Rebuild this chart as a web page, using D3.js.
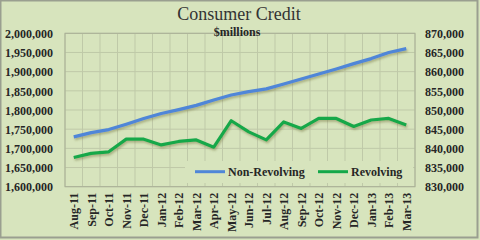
<!DOCTYPE html>
<html>
<head>
<meta charset="utf-8">
<script src="https://cdn.jsdelivr.net/npm/d3@7"></script>
<style>
  html, body { margin: 0; padding: 0; background: #d7e4bd; }
  svg { display: block; }
  text { font-family: "Liberation Serif", serif; fill: #262626; }
</style>
</head>
<body>
<svg class="chart"></svg>
<script>
const months = ['Aug-11', 'Sep-11', 'Oct-11', 'Nov-11', 'Dec-11', 'Jan-12', 'Feb-12', 'Mar-12', 'Apr-12', 'May-12',
  'Jun-12', 'Jul-12', 'Aug-12', 'Sep-12', 'Oct-12', 'Nov-12', 'Dec-12', 'Jan-13', 'Feb-13', 'Mar-13']
const nonRevolving = [1730000, 1741000, 1749000, 1763000, 1778000, 1791000, 1801000, 1812000, 1826000, 1839000,
  1848000, 1855000, 1868000, 1881000, 1894000, 1907000, 1921000, 1934000, 1950000, 1960000]
const revolving = [837600, 838700, 839100, 842400, 842400, 840900, 841800, 842200, 840300, 847200,
  844300, 842200, 846900, 845200, 847800, 847800, 845700, 847400, 847800, 846100]
const leftTicks = [1600000, 1650000, 1700000, 1750000, 1800000, 1850000, 1900000, 1950000, 2000000]
const rightTicks = [830000, 835000, 840000, 845000, 850000, 855000, 860000, 865000, 870000]
const seriesNames = ['Non-Revolving', 'Revolving']

const w = 480
const h = 240
const plot = {left: 65, right: 415, top: 33.3, bottom: 186.7}
const blue = '#4f86d8'
const green = '#14a84a'
const gridColor = '#bfc9a8'

const svg = d3.select('.chart')
  .attr('width', w)
  .attr('height', h)

// background and outer frame
svg.append('rect')
  .attr('x', 0.5).attr('y', 0.5)
  .attr('width', w - 3).attr('height', h - 3)
  .attr('fill', '#d7e4bd')
  .attr('stroke', '#9a9f90')
  .attr('stroke-width', 2)

const defs = svg.append('defs')
defs.append('filter')
  .attr('id', 'shadow')
  .attr('x', '-10%').attr('y', '-20%').attr('width', '120%').attr('height', '160%')
  .append('feDropShadow')
  .attr('dx', 1).attr('dy', 1.8)
  .attr('stdDeviation', 0.9)
  .attr('flood-color', '#6b6a30')
  .attr('flood-opacity', 0.45)

const xScale = d3.scaleBand()
  .domain(months)
  .range([plot.left, plot.right])
  .paddingInner(0).paddingOuter(0)

const yLeft = d3.scaleLinear()
  .domain([1600000, 2000000])
  .range([plot.bottom, plot.top])

const yRight = d3.scaleLinear()
  .domain([830000, 870000])
  .range([plot.bottom, plot.top])

// gridlines
const grid = svg.append('g')
grid.selectAll('.hgrid')
  .data(leftTicks)
  .enter()
  .append('line')
  .attr('x1', plot.left).attr('x2', plot.right)
  .attr('y1', d => yLeft(d)).attr('y2', d => yLeft(d))
  .attr('stroke', gridColor)
  .attr('stroke-width', 1)

grid.selectAll('.vgrid')
  .data(months.concat(['end']))
  .enter()
  .append('line')
  .attr('x1', (d, i) => i < months.length ? xScale(d) : plot.right)
  .attr('x2', (d, i) => i < months.length ? xScale(d) : plot.right)
  .attr('y1', plot.top).attr('y2', plot.bottom)
  .attr('stroke', gridColor)
  .attr('stroke-width', 1)

// plot border
svg.append('rect')
  .attr('x', plot.left).attr('y', plot.top)
  .attr('width', plot.right - plot.left)
  .attr('height', plot.bottom - plot.top)
  .attr('fill', 'none')
  .attr('stroke', '#a9b096')
  .attr('stroke-width', 1)

// axes
const fmt = d3.format(',')
const leftAxis = d3.axisLeft(yLeft).tickValues(leftTicks).tickFormat(fmt).tickSize(0).tickPadding(0)
svg.append('g')
  .attr('transform', 'translate(53,0)')
  .call(leftAxis)
  .call(g => g.select('.domain').remove())
  .selectAll('text')
  .attr('dy', '0.35em')
  .style('font-size', '12px')
  .style('font-weight', 'bold')
  .style('font-family', '"Liberation Serif", serif')

const rightAxis = d3.axisRight(yRight).tickValues(rightTicks).tickFormat(fmt).tickSize(0).tickPadding(0)
svg.append('g')
  .attr('transform', 'translate(425,0)')
  .call(rightAxis)
  .call(g => g.select('.domain').remove())
  .selectAll('text')
  .attr('dy', '0.35em')
  .style('font-size', '12px')
  .style('font-weight', 'bold')
  .style('font-family', '"Liberation Serif", serif')

const xAxis = d3.axisBottom(xScale).tickSize(0).tickPadding(0)
svg.append('g')
  .attr('transform', 'translate(0,' + (plot.bottom + 6) + ')')
  .call(xAxis)
  .call(g => g.select('.domain').remove())
  .selectAll('text')
  .attr('transform', 'rotate(-90)')
  .attr('text-anchor', 'end')
  .attr('x', 0).attr('y', 0)
  .attr('dx', 0).attr('dy', '0.38em')
  .style('font-size', '12px')
  .style('font-weight', 'bold')
  .style('font-family', '"Liberation Serif", serif')

// legend box (covers gridlines)
svg.append('rect')
  .attr('x', 185).attr('y', 161)
  .attr('width', 228).attr('height', 22)
  .attr('fill', '#d7e4bd')

// lines
const cx = d => xScale(d) + xScale.bandwidth() / 2
const lineLeft = d3.line().x((d, i) => cx(months[i])).y(d => yLeft(d))
const lineRight = d3.line().x((d, i) => cx(months[i])).y(d => yRight(d))

svg.append('path')
  .datum(nonRevolving)
  .attr('d', lineLeft)
  .attr('fill', 'none')
  .attr('stroke', blue)
  .attr('stroke-width', 3.2)
  .attr('stroke-linejoin', 'round')
  .attr('filter', 'url(#shadow)')

svg.append('path')
  .datum(revolving)
  .attr('d', lineRight)
  .attr('fill', 'none')
  .attr('stroke', green)
  .attr('stroke-width', 3.2)
  .attr('stroke-linejoin', 'round')
  .attr('filter', 'url(#shadow)')

// legend entries
const legend = svg.append('g')
const legendItems = [
  {name: seriesNames[0], color: blue, x: 195},
  {name: seriesNames[1], color: green, x: 318}
]
legendItems.forEach(item => {
  legend.append('line')
    .attr('x1', item.x).attr('x2', item.x + 30)
    .attr('y1', 171.7).attr('y2', 171.7)
    .attr('stroke', item.color)
    .attr('stroke-width', 3)
  legend.append('text')
    .attr('x', item.x + 33)
    .attr('y', 171.7)
    .attr('dy', '0.35em')
    .style('font-size', '12px')
    .style('font-weight', 'bold')
    .text(item.name)
})

// title
svg.append('text')
  .attr('x', 239)
  .attr('y', 20)
  .attr('text-anchor', 'middle')
  .style('font-size', '18px')
  .style('fill', '#333')
  .text('Consumer Credit')

svg.append('text')
  .attr('x', 237)
  .attr('y', 36)
  .attr('text-anchor', 'middle')
  .style('font-size', '12px')
  .style('font-weight', 'bold')
  .text('$millions')
</script>
</body>
</html>
